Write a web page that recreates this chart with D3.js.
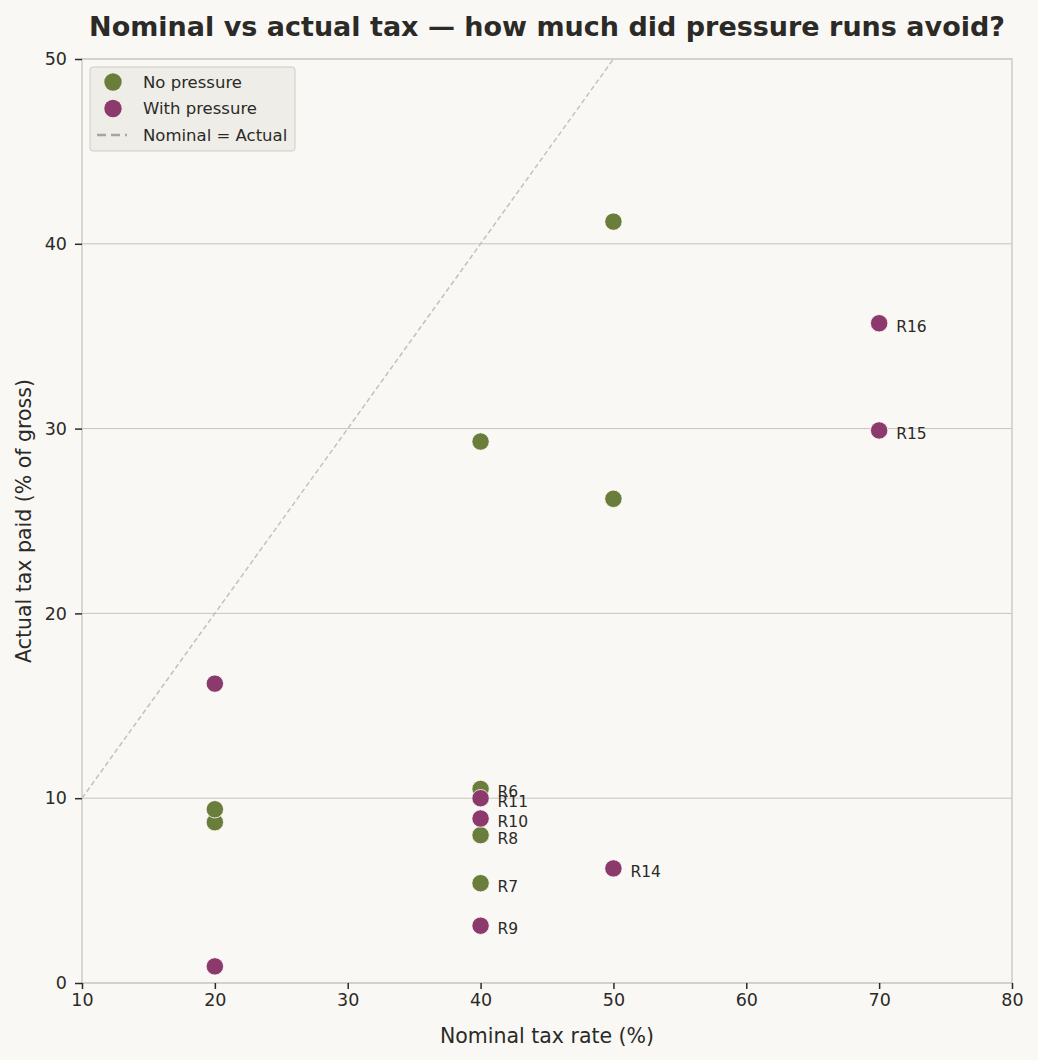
<!DOCTYPE html>
<html>
<head>
<meta charset="utf-8">
<script src="https://cdn.jsdelivr.net/npm/d3@7"></script>
<style>
  body { margin: 0; background: #f9f8f5; }
  text { font-family: "DejaVu Sans", sans-serif; fill: #2b2a27; }
</style>
</head>
<body>
<div id="chart"></div>
<script>
// data
var noPressureNominal = [20, 20, 40, 40, 40, 40, 50, 50];
var noPressureActual  = [8.7, 9.4, 29.3, 10.5, 8.0, 5.4, 41.2, 26.2];
var noPressureLabels  = ["", "", "", "R6", "R8", "R7", "", ""];

var pressureNominal = [20, 20, 40, 40, 40, 50, 70, 70];
var pressureActual  = [16.2, 0.9, 10.0, 8.9, 3.1, 6.2, 35.7, 29.9];
var pressureLabels  = ["", "", "R11", "R10", "R9", "R14", "R16", "R15"];

var xTicks = [10, 20, 30, 40, 50, 60, 70, 80];
var yTicks = [0, 10, 20, 30, 40, 50];

var W = 1038, H = 1060;
var margin = {top: 59, right: 26, bottom: 77, left: 82};
var width = W - margin.left - margin.right,
    height = H - margin.top - margin.bottom;

var green = "#6a7d3a", purple = "#8b3a6b";

var svg = d3.select("#chart").append("svg")
    .attr("width", W).attr("height", H);

svg.append("rect").attr("width", W).attr("height", H).attr("fill", "#f9f8f5");

var g = svg.append("g")
    .attr("transform", `translate(${margin.left}, ${margin.top})`);

var x = d3.scaleLinear().domain([10, 80]).range([0, width]);
var y = d3.scaleLinear().domain([0, 50]).range([height, 0]);

g.append("clipPath").attr("id", "clip")
  .append("rect").attr("width", width).attr("height", height);

// grid
g.selectAll("line.grid")
  .data(yTicks)
  .enter().append("line")
    .attr("x1", 0).attr("x2", width)
    .attr("y1", d => y(d)).attr("y2", d => y(d))
    .attr("stroke", "#c8c4bc").attr("stroke-width", 1);

// nominal = actual line
g.append("line")
    .attr("clip-path", "url(#clip)")
    .attr("x1", x(10)).attr("y1", y(10))
    .attr("x2", x(80)).attr("y2", y(80))
    .attr("stroke", "#c4c1bb").attr("stroke-width", 1.5)
    .attr("stroke-dasharray", "5,3");

// frame
g.append("rect").attr("width", width).attr("height", height)
    .attr("fill", "none").attr("stroke", "#cfccc6").attr("stroke-width", 1.5);

// axes
var xAxis = g.append("g")
    .attr("transform", `translate(0, ${height})`)
    .call(d3.axisBottom(x).tickValues(xTicks).tickSize(6).tickPadding(5));
var yAxis = g.append("g")
    .call(d3.axisLeft(y).tickValues(yTicks).tickSize(7).tickPadding(8));

[xAxis, yAxis].forEach(function(a) {
  a.select(".domain").remove();
  a.selectAll(".tick line").attr("stroke", "#2b2a27").attr("stroke-width", 1.5);
  a.selectAll(".tick text").style("font-size", "17.5px").attr("fill", "#2b2a27")
    .style("font-family", "DejaVu Sans, sans-serif");
});

function series(nom, act, labels, color) {
  var pts = nom.map((d, i) => ({x: d, y: act[i], label: labels[i]}));
  g.selectAll(null).data(pts).enter().append("circle")
      .attr("cx", d => x(d.x)).attr("cy", d => y(d.y))
      .attr("r", 8.7)
      .attr("fill", color)
      .attr("stroke", "#ffffff").attr("stroke-width", 0.8);
  g.selectAll(null).data(pts.filter(d => d.label)).enter().append("text")
      .attr("x", d => x(d.x) + 17).attr("y", d => y(d.y) + 4)
      .attr("dominant-baseline", "middle")
      .style("font-size", "15.5px")
      .text(d => d.label);
}
series(noPressureNominal, noPressureActual, noPressureLabels, green);
series(pressureNominal, pressureActual, pressureLabels, purple);

// title and axis labels
svg.append("text")
    .attr("x", margin.left + width / 2).attr("y", 36)
    .attr("text-anchor", "middle")
    .style("font-size", "27px").style("font-weight", "bold")
    .text("Nominal vs actual tax — how much did pressure runs avoid?");

svg.append("text")
    .attr("x", margin.left + width / 2).attr("y", 1043)
    .attr("text-anchor", "middle")
    .style("font-size", "20.5px")
    .text("Nominal tax rate (%)");

svg.append("text")
    .attr("transform", `translate(31, ${margin.top + height / 2}) rotate(-90)`)
    .attr("text-anchor", "middle")
    .style("font-size", "20.5px")
    .text("Actual tax paid (% of gross)");

// legend
var legend = g.append("g").attr("transform", "translate(8, 8)");
legend.append("rect")
    .attr("width", 205).attr("height", 84).attr("rx", 3)
    .attr("fill", "#efede8").attr("stroke", "#cfccc6").attr("stroke-width", 1);
var items = [
  {label: "No pressure", type: "dot", color: green},
  {label: "With pressure", type: "dot", color: purple},
  {label: "Nominal = Actual", type: "line", color: "#a9a59e"}
];
items.forEach(function(it, i) {
  var cy = 15 + i * 26.5;
  if (it.type === "dot") {
    legend.append("circle").attr("cx", 23).attr("cy", cy).attr("r", 8.7).attr("fill", it.color);
  } else {
    legend.append("line").attr("x1", 7).attr("x2", 37).attr("y1", cy).attr("y2", cy)
        .attr("stroke", it.color).attr("stroke-width", 2.5).attr("stroke-dasharray", "9,5");
  }
  legend.append("text").attr("x", 53).attr("y", cy)
      .attr("dominant-baseline", "central")
      .style("font-size", "16.5px")
      .text(it.label);
});
</script>
</body>
</html>
